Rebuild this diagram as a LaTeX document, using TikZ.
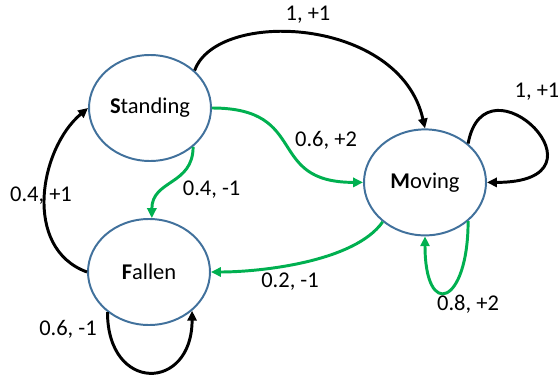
\documentclass[tikz,border=0pt]{standalone}
\usepackage{fontspec}
\setmainfont{Carlito}
\usetikzlibrary{arrows.meta,shapes.geometric}
\definecolor{stateblue}{RGB}{65,113,156}
\definecolor{pathgreen}{RGB}{0,176,80}

\begin{document}
\begin{tikzpicture}[
        every node/.style={font=\fontsize{16}{19}\selectfont},
        state/.style={ellipse, draw=stateblue, line width=1.4pt, fill=white, minimum width=3.05cm, minimum height=2.65cm, inner sep=0pt},
        blackedge/.style={line width=2.1pt, -{Triangle[length=7pt,width=6.5pt]}},
        greenedge/.style={blackedge, pathgreen},
        prob/.style={inner sep=0pt}
    ]
        \useasboundingbox (0,0) rectangle (13.95,9.4);
        \node[state] (standing) at (3.75,6.7) {{\bfseries S}tanding};
        \node[state] (moving) at (10.625,4.84) {{\bfseries M}oving};
        \node[state] (fallen) at (3.725,2.6) {{\bfseries F}allen};
        \draw[blackedge] (standing.40) .. controls +(0.55,1.55) and +(-0.625,2.8) .. (moving.north);
        \draw[blackedge] (moving.42) .. controls +(0.425,2.325) and +(3.3,0) .. (moving.east);
        \draw[greenedge] (standing.east) to[out=0,in=180,looseness=1.5] (moving.west);
        \draw[greenedge] (standing.-42) to[out=-90,in=90,looseness=1.2] (fallen.87);
        \draw[greenedge] (moving.-137) to[out=-125,in=0,looseness=0.7] (fallen.east);
        \draw[greenedge] (moving.-42) .. controls +(0,-2.1) and +(0,-2.1) .. (moving.south);
        \draw[blackedge] (fallen.west) .. controls +(-1.62,0.59) and +(-1.215,-1.02) .. (standing.west);
        \draw[blackedge] (fallen.-136) .. controls +(0,-2.025) and +(0,-2.025) .. (fallen.-42);
        \node[prob] (pSM) at (7.7,9.025) {1, +1};
        \node[prob] (pMM) at (13.425,7.11) {1, +1};
        \node[prob] (pSMg) at (8.15,5.9) {0.6, +2};
        \node[prob] (pSF) at (5.29,4.65) {0.4, -1};
        \node[prob] (pMF) at (7.25,2.35) {0.2, -1};
        \node[prob] (pMMg) at (11.7,1.8) {0.8, +2};
        \node[prob] (pFS) at (1.025,4.5) {0.4, +1};
        \node[prob] (pFF) at (1.7,1.16) {0.6, -1};
\end{tikzpicture}
\end{document}
